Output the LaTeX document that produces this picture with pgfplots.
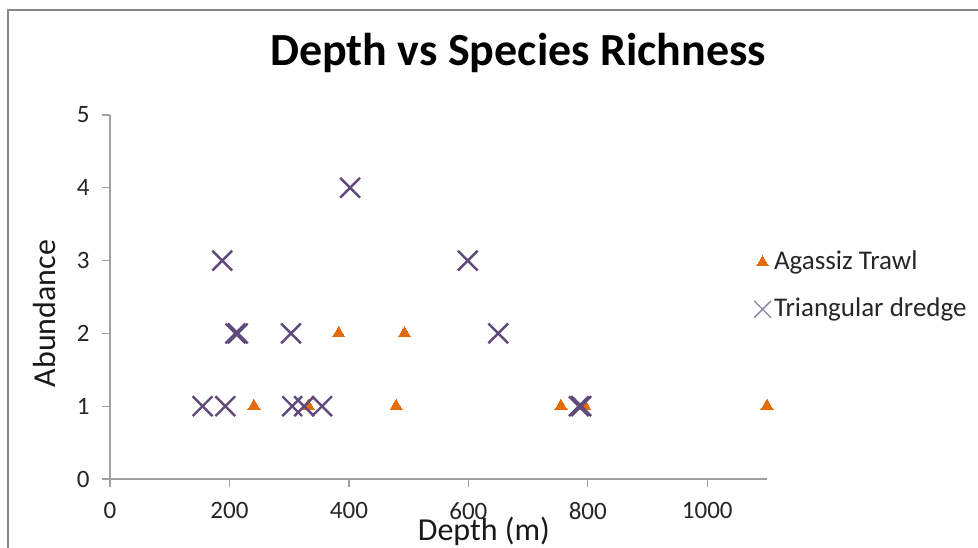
\documentclass[border=0pt]{standalone}
\usepackage{fontspec}
\setmainfont{Carlito}
\usepackage{pgfplots}
\pgfplotsset{compat=1.18}

\definecolor{trawl}{HTML}{E46C0A}
\definecolor{dredge}{HTML}{604A7B}
\definecolor{axisgray}{HTML}{A0A0A0}
\definecolor{framegray}{HTML}{868686}

% Agassiz trawl samples: depth (m), abundance
\pgfplotstableread{
depth abundance
241  1
332  1
383  2
479  1
493  2
755  1
795  1
1100 1
}\trawldata

% Triangular dredge samples: depth (m), abundance
\pgfplotstableread{
depth abundance
155 1
193 1
210 2
214 2
188 3
303 2
305 1
325 1
355 1
402 4
599 3
650 2
785 1
789 1
}\dredgedata

\begin{document}
\begin{tikzpicture}
\path[use as bounding box] (0pt,0pt) rectangle (978pt,548pt);
% chart frame
\draw[framegray, line width=2pt] (8pt,-2pt) -- (8pt,538pt) -- (980pt,538pt);
% chart title
\node[anchor=base, font=\fontsize{46}{54}\selectfont\bfseries] at (518pt,482pt) {Depth vs Species Richness};

\begin{axis}[
  at={(110pt,69pt)}, anchor=south west,
  width=657pt, height=364pt, scale only axis,
  xmin=0, xmax=1100, ymin=0, ymax=5,
  axis x line=bottom, axis y line=left,
  axis line style={-, axisgray, line width=1.3pt},
  xtick={0,200,...,1000}, ytick={0,1,...,5},
  tick style={axisgray, line width=1.3pt},
  tick align=outside, major tick length=8pt,
  ticklabel style={font=\fontsize{25}{30}\selectfont, text=black!85},
  xticklabel style={yshift=-12pt},
  yticklabel style={xshift=-9pt},
  /pgf/number format/assume math mode=true,
  /pgf/number format/1000 sep={},
  xlabel={Depth (m)}, ylabel={Abundance},
  label style={font=\fontsize{32}{38}\selectfont, text=black!90},
  xlabel style={at={(axis description cs:0.569,-0.1676)}, anchor=base},
  ylabel style={at={(axis description cs:-0.0837,0.4547)}, anchor=base},
  legend style={at={(axis description cs:0.980,0.528)}, anchor=west,
    draw=none, fill=none, inner sep=0pt, row sep=23pt,
    font=\fontsize{27}{32}\selectfont, text=black!85,
    nodes={inner xsep=3pt, inner ysep=0pt, text height=18pt, text depth=6pt}},
  legend cell align=left,
  clip=false,
]
\addplot[only marks, color=trawl, mark=triangle*, mark size=7pt,
  mark options={draw=trawl, fill=trawl, line width=0pt},
  legend image code/.code={\draw[trawl, mark=triangle*, mark size=6.5pt, mark options={draw=trawl, fill=trawl, line width=0pt}] plot coordinates {(0pt,1pt)};}]
  table[x=depth, y=abundance] {\trawldata};
\addlegendentry{Agassiz Trawl}
\addplot[only marks, color=dredge, mark=x, mark size=14pt,
  mark options={draw=dredge, line width=2.4pt},
  legend image code/.code={\draw[mark=x, mark size=12pt, mark options={draw=dredge!70, line width=1.3pt}] plot coordinates {(0pt,1pt)};}]
  table[x=depth, y=abundance] {\dredgedata};
\addlegendentry{Triangular dredge}
\end{axis}
\end{tikzpicture}
\end{document}
